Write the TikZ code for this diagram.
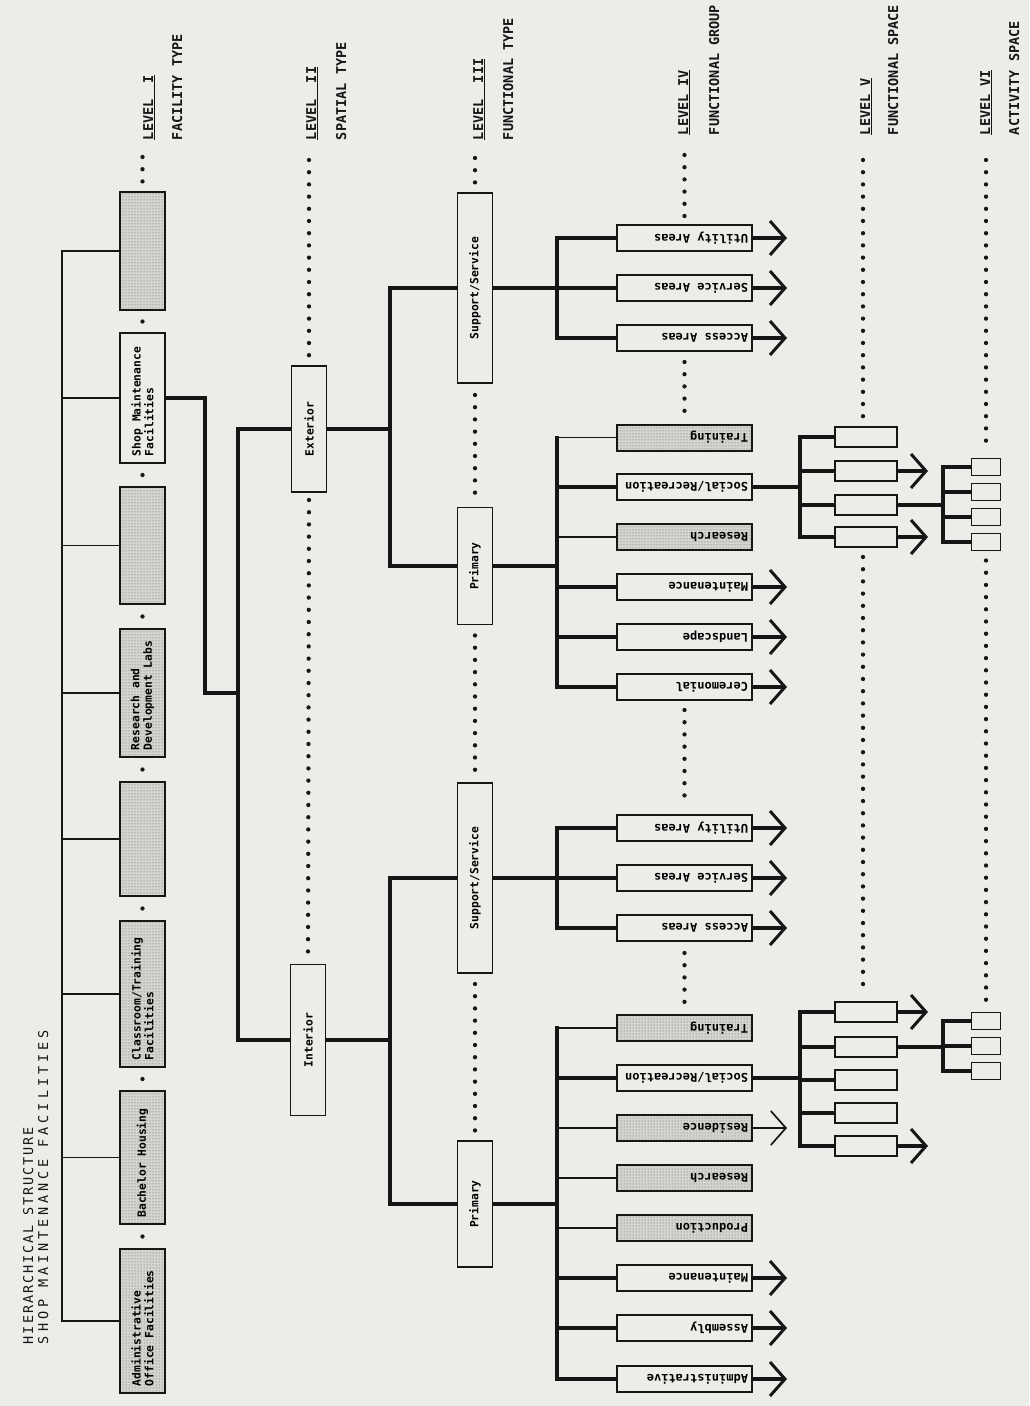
\documentclass[tikz,border=0pt]{standalone}
\usepackage{fontspec}
\newfontfamily\monofam{DejaVu Sans Mono}
\newfontfamily\titleA[LetterSpace=14]{DejaVu Sans Mono}
\newfontfamily\titleB[LetterSpace=29]{DejaVu Sans Mono}
\usetikzlibrary{arrows.meta,patterns}
\pgfdeclarelayer{paperlayer}
\pgfdeclarelayer{linelayer}
\pgfsetlayers{paperlayer,linelayer,main}
\definecolor{paper}{RGB}{236,236,233}
\definecolor{ink}{RGB}{22,22,22}
\definecolor{stip}{RGB}{212,212,208}
\newcommand\boxfont{\monofam\bfseries\fontsize{11.3}{12.6}\selectfont}
\newcommand\lvfont{\monofam\bfseries\fontsize{12}{13}\selectfont}
\newcommand\labfont{\monofam\bfseries\fontsize{13.5}{15}\selectfont}
\newcommand\ttlA{\titleA\fontsize{13.5}{15}\selectfont}
\newcommand\ttlB{\titleB\fontsize{13.5}{15}\selectfont}
\newcommand\vtext[2]{\rotatebox{90}{\parbox{#1}{\raggedright #2}}}
\newcommand\htext[1]{\rotatebox{180}{\parbox{127pt}{\raggedright #1}}}
\begin{document}
\begin{tikzpicture}[x=1pt,y=-1pt,
 every node/.style={inner sep=0pt,outer sep=0pt},
 bx/.style={draw=ink,line width=1.8pt,fill=paper,rectangle},
 sh/.style={draw=ink,line width=2pt,rectangle,preaction={fill=stip},pattern=dots,pattern color=ink!70},
 thk/.style={draw=ink,line width=4pt,line cap=rect},
 thn/.style={draw=ink,line width=1.7pt},
 chev/.style={-{Straight Barb[length=15pt,width=34pt,line width=3pt]}},
 dotline/.style={draw=ink,line width=4.3pt,line cap=round,dash pattern=on 0pt off 12.2pt},
 dotn/.style={circle,fill=ink,minimum size=4.3pt},
 lab/.style={rotate=90,anchor=base west,font=\labfont,text=ink},
 l1/.style={minimum width=45pt,font=\boxfont},
 l23/.style={bx,minimum width=35pt,font=\boxfont},
 l4/.style={minimum width=135pt,minimum height=26pt,font=\lvfont},
 l5/.style={bx,minimum width=62pt,minimum height=20pt},
 l6/.style={bx,minimum width=29pt,minimum height=17pt},
]
\begin{pgfonlayer}{paperlayer}
\fill[paper] (0,0) rectangle (1029,1406);
\end{pgfonlayer}
\useasboundingbox (0,0) rectangle (1029,1406);

% ---------- title ----------
\node[rotate=90,anchor=base west,font=\ttlA,text=ink] (title1) at (33,1344) {HIERARCHICAL STRUCTURE};
\node[rotate=90,anchor=base west,font=\ttlB,text=ink] (title2) at (48,1344) {SHOP MAINTENANCE FACILITIES};

% ---------- level labels ----------
\node[lab] (lv1) at (153,140) {\underline{LEVEL~~I}};
\node[lab] (lt1) at (182,140) {FACILITY TYPE};
\node[lab] (lv2) at (316,140) {\underline{LEVEL~~II}};
\node[lab] (lt2) at (346,140) {SPATIAL TYPE};
\node[lab] (lv3) at (483,140) {\underline{LEVEL~~III}};
\node[lab] (lt3) at (513,140) {FUNCTIONAL TYPE};
\node[lab] (lv4) at (688,135) {\underline{LEVEL~IV}};
\node[lab] (lt4) at (719,135) {FUNCTIONAL GROUP};
\node[lab] (lv5) at (870,135) {\underline{LEVEL~V}};
\node[lab] (lt5) at (898,135) {FUNCTIONAL SPACE};
\node[lab] (lv6) at (990,135) {\underline{LEVEL~VI}};
\node[lab] (lt6) at (1019,135) {ACTIVITY SPACE};

% ---------- level I ----------
\node[sh,l1,minimum height=118pt] (f1) at (142.5,251) {};
\node[bx,l1,minimum height=130pt] (f2) at (142.5,398) {\vtext{116pt}{Shop Maintenance\\Facilities}};
\node[sh,l1,minimum height=117pt] (f3) at (142.5,545.5) {};
\node[sh,l1,minimum height=128pt] (f4) at (142.5,693) {\vtext{114pt}{Research and\\Development Labs}};
\node[sh,l1,minimum height=114pt] (f5) at (142.5,839) {};
\node[sh,l1,minimum height=146pt] (f6) at (142.5,994) {\vtext{132pt}{Classroom/Training\\Facilities}};
\node[sh,l1,minimum height=133pt] (f7) at (142.5,1157.5) {\vtext{120pt}{Bachelor Housing}};
\node[sh,l1,minimum height=144pt] (f8) at (142.5,1321) {\vtext{130pt}{Administrative\\Office Facilities}};

% ---------- level II ----------
\node[l23,minimum height=126pt] (ext) at (309,429) {\rotatebox{90}{Exterior}};
\node[l23,minimum height=151pt] (int) at (308,1040) {\rotatebox{90}{Interior}};

% ---------- level III ----------
\node[l23,minimum height=190pt] (eSS) at (475,288) {\rotatebox{90}{Support/Service}};
\node[l23,minimum height=117pt] (ePr) at (475,566) {\rotatebox{90}{Primary}};
\node[l23,minimum height=190pt] (iSS) at (475,878) {\rotatebox{90}{Support/Service}};
\node[l23,minimum height=126pt] (iPr) at (475,1204) {\rotatebox{90}{Primary}};

% ---------- level IV ----------
\node[bx,l4] (eu)   at (684.5,238)   {\htext{Utility Areas}};
\node[bx,l4] (es)   at (684.5,288)   {\htext{Service Areas}};
\node[bx,l4] (ea)   at (684.5,338)   {\htext{Access Areas}};
\node[sh,l4] (et)   at (684.5,437.5) {\htext{Training}};
\node[bx,l4] (er)   at (684.5,487)   {\htext{Social/Recreation}};
\node[sh,l4] (erc)  at (684.5,537)   {\htext{Research}};
\node[bx,l4] (em)   at (684.5,587)   {\htext{Maintenance}};
\node[bx,l4] (el)   at (684.5,637)   {\htext{Landscape}};
\node[bx,l4] (ec)   at (684.5,687)   {\htext{Ceremonial}};
\node[bx,l4] (iu)   at (684.5,828)   {\htext{Utility Areas}};
\node[bx,l4] (is)   at (684.5,878)   {\htext{Service Areas}};
\node[bx,l4] (ia)   at (684.5,928)   {\htext{Access Areas}};
\node[sh,l4] (it)   at (684.5,1028)  {\htext{Training}};
\node[bx,l4] (ir)   at (684.5,1078)  {\htext{Social/Recreation}};
\node[sh,l4] (ires) at (684.5,1128)  {\htext{Residence}};
\node[sh,l4] (irc)  at (684.5,1178)  {\htext{Research}};
\node[sh,l4] (ip)   at (684.5,1228)  {\htext{Production}};
\node[bx,l4] (im)   at (684.5,1278)  {\htext{Maintenance}};
\node[bx,l4] (ias)  at (684.5,1328)  {\htext{Assembly}};
\node[bx,l4] (iad)  at (684.5,1379)  {\htext{Administrative}};

% ---------- level V ----------
\node[l5] (v1) at (866,437) {};
\node[l5] (v2) at (866,471) {};
\node[l5] (v3) at (866,505) {};
\node[l5] (v4) at (866,537) {};
\node[l5] (u1) at (866,1012) {};
\node[l5] (u2) at (866,1047) {};
\node[l5] (u3) at (866,1080) {};
\node[l5] (u4) at (866,1113) {};
\node[l5] (u5) at (866,1146) {};

% ---------- level VI ----------
\node[l6] (w1) at (986,467) {};
\node[l6] (w2) at (986,492) {};
\node[l6] (w3) at (986,517) {};
\node[l6] (w4) at (986,542) {};
\node[l6] (z1) at (986,1021) {};
\node[l6] (z2) at (986,1046) {};
\node[l6] (z3) at (986,1071) {};

% ---------- helper coordinates ----------
\coordinate (b1) at (62,700);
\coordinate (k1) at (205,693);
\coordinate (b2) at (238,693);
\coordinate (b3e) at (390,429);
\coordinate (b3i) at (390,1040);
\coordinate (b4x) at (557,0);
\coordinate (b5x) at (800,0);
\coordinate (b6x) at (943,0);
\coordinate (tip4) at (787,0);
\coordinate (tip5) at (928,0);
\coordinate (t1) at (142.5,157);
\coordinate (t2) at (309,160);
\coordinate (t3) at (475,158);
\coordinate (t4) at (684.5,155);
\coordinate (t5) at (863,160);
\coordinate (t6) at (986,160);

\begin{pgfonlayer}{linelayer}
% level I bus
\draw[draw=ink,line width=2pt,line cap=rect] (f1.west -| b1) -- (f8.west -| b1);
\foreach \n in {f1,f2,f3,f4,f5,f6,f7,f8}
  \draw[thn] (\n.west -| b1) -- (\n.west);
% level I -> II
\draw[thk] (f2.east) -| (k1) -- (b2);
\draw[thk] (ext.west) -| (b2) |- (int.west);
% level II -> III
\draw[thk] (ext.east) -- (b3e);
\draw[thk] (eSS.west) -| (b3e) |- (ePr.west);
\draw[thk] (int.east) -- (b3i);
\draw[thk] (iSS.west) -| (b3i) |- (iPr.west);
% level III -> IV
\draw[thk] (eSS.east) -- (eSS.east -| b4x);
\draw[thk] (eu.west -| b4x) -- (ea.west -| b4x);
\draw[thk] (ePr.east) -- (ePr.east -| b4x);
\draw[thk] (et.west -| b4x) -- (ec.west -| b4x);
\draw[thk] (iSS.east) -- (iSS.east -| b4x);
\draw[thk] (iu.west -| b4x) -- (ia.west -| b4x);
\draw[thk] (iPr.east) -- (iPr.east -| b4x);
\draw[thk] (it.west -| b4x) -- (iad.west -| b4x);
\foreach \n in {eu,es,ea,er,em,el,ec,iu,is,ia,ir,im,ias,iad}
  \draw[thk] (\n.west -| b4x) -- (\n.west);
\foreach \n in {et,erc,it,ires,irc,ip}
  \draw[thn] (\n.west -| b4x) -- (\n.west);
% level IV arrows
\foreach \n in {eu,es,ea,em,el,ec,iu,is,ia,im,ias,iad}
  \draw[thk,line cap=butt,chev] (\n.east) -- (\n.east -| tip4);
\draw[thn,-{Straight Barb[length=15pt,width=34pt,line width=1.7pt]}] (ires.east) -- (ires.east -| tip4);
% level IV -> V
\draw[thk] (er.east) -- (er.east -| b5x);
\draw[thk] (v1.west -| b5x) -- (v4.west -| b5x);
\foreach \n in {v1,v2,v3,v4}
  \draw[thk] (\n.west -| b5x) -- (\n.west);
\draw[thk] (ir.east) -- (ir.east -| b5x);
\draw[thk] (u1.west -| b5x) -- (u5.west -| b5x);
\foreach \n in {u1,u2,u3,u4,u5}
  \draw[thk] (\n.west -| b5x) -- (\n.west);
% level V arrows
\foreach \n in {v2,v4,u1,u5}
  \draw[thk,line cap=butt,chev] (\n.east) -- (\n.east -| tip5);
% level V -> VI
\draw[thk] (v3.east) -- (v3.east -| b6x);
\draw[thk] (w1.west -| b6x) -- (w4.west -| b6x);
\foreach \n in {w1,w2,w3,w4}
  \draw[thk] (\n.west -| b6x) -- (\n.west);
\draw[thk] (u2.east) -- (u2.east -| b6x);
\draw[thk] (z1.west -| b6x) -- (z3.west -| b6x);
\foreach \n in {z1,z2,z3}
  \draw[thk] (\n.west -| b6x) -- (\n.west);

% dotted level lines
\draw[dotline,shorten >=8pt] (t1) -- (f1.north);
\foreach \a/\b in {f1/f2,f2/f3,f3/f4,f4/f5,f5/f6,f6/f7,f7/f8}
  \path (\a.south) -- (\b.north) node[midway,dotn] {};
\draw[dotline,shorten >=8pt] (t2) -- (ext.north);
\draw[dotline,shorten <=8pt,shorten >=8pt] (ext.south) -- (int.north);
\draw[dotline,shorten >=8pt] (t3) -- (eSS.north);
\draw[dotline,shorten <=12pt,shorten >=10pt] (eSS.south) -- (ePr.north);
\draw[dotline,shorten <=11pt,shorten >=10pt] (ePr.south) -- (iSS.north);
\draw[dotline,shorten <=11pt,shorten >=9pt] (iSS.south) -- (iPr.north);
\draw[dotline,shorten >=7pt] (t4) -- (eu.north);
\draw[dotline,shorten <=11pt,shorten >=9pt] (ea.south) -- (et.north);
\draw[dotline,shorten <=10pt,shorten >=9pt] (ec.south) -- (iu.north);
\draw[dotline,shorten <=12pt,shorten >=10pt] (ia.south) -- (it.north);
\draw[dotline,shorten >=8pt] (t5) -- (v1.north -| t5);
\draw[dotline,shorten <=10pt,shorten >=8pt] (v4.south -| t5) -- (u1.north -| t5);
\draw[dotline,shorten >=9pt] (t6) -- (w1.north);
\draw[dotline,shorten <=10pt,shorten >=8pt] (w4.south) -- (z1.north);
\end{pgfonlayer}
\end{tikzpicture}
\end{document}
